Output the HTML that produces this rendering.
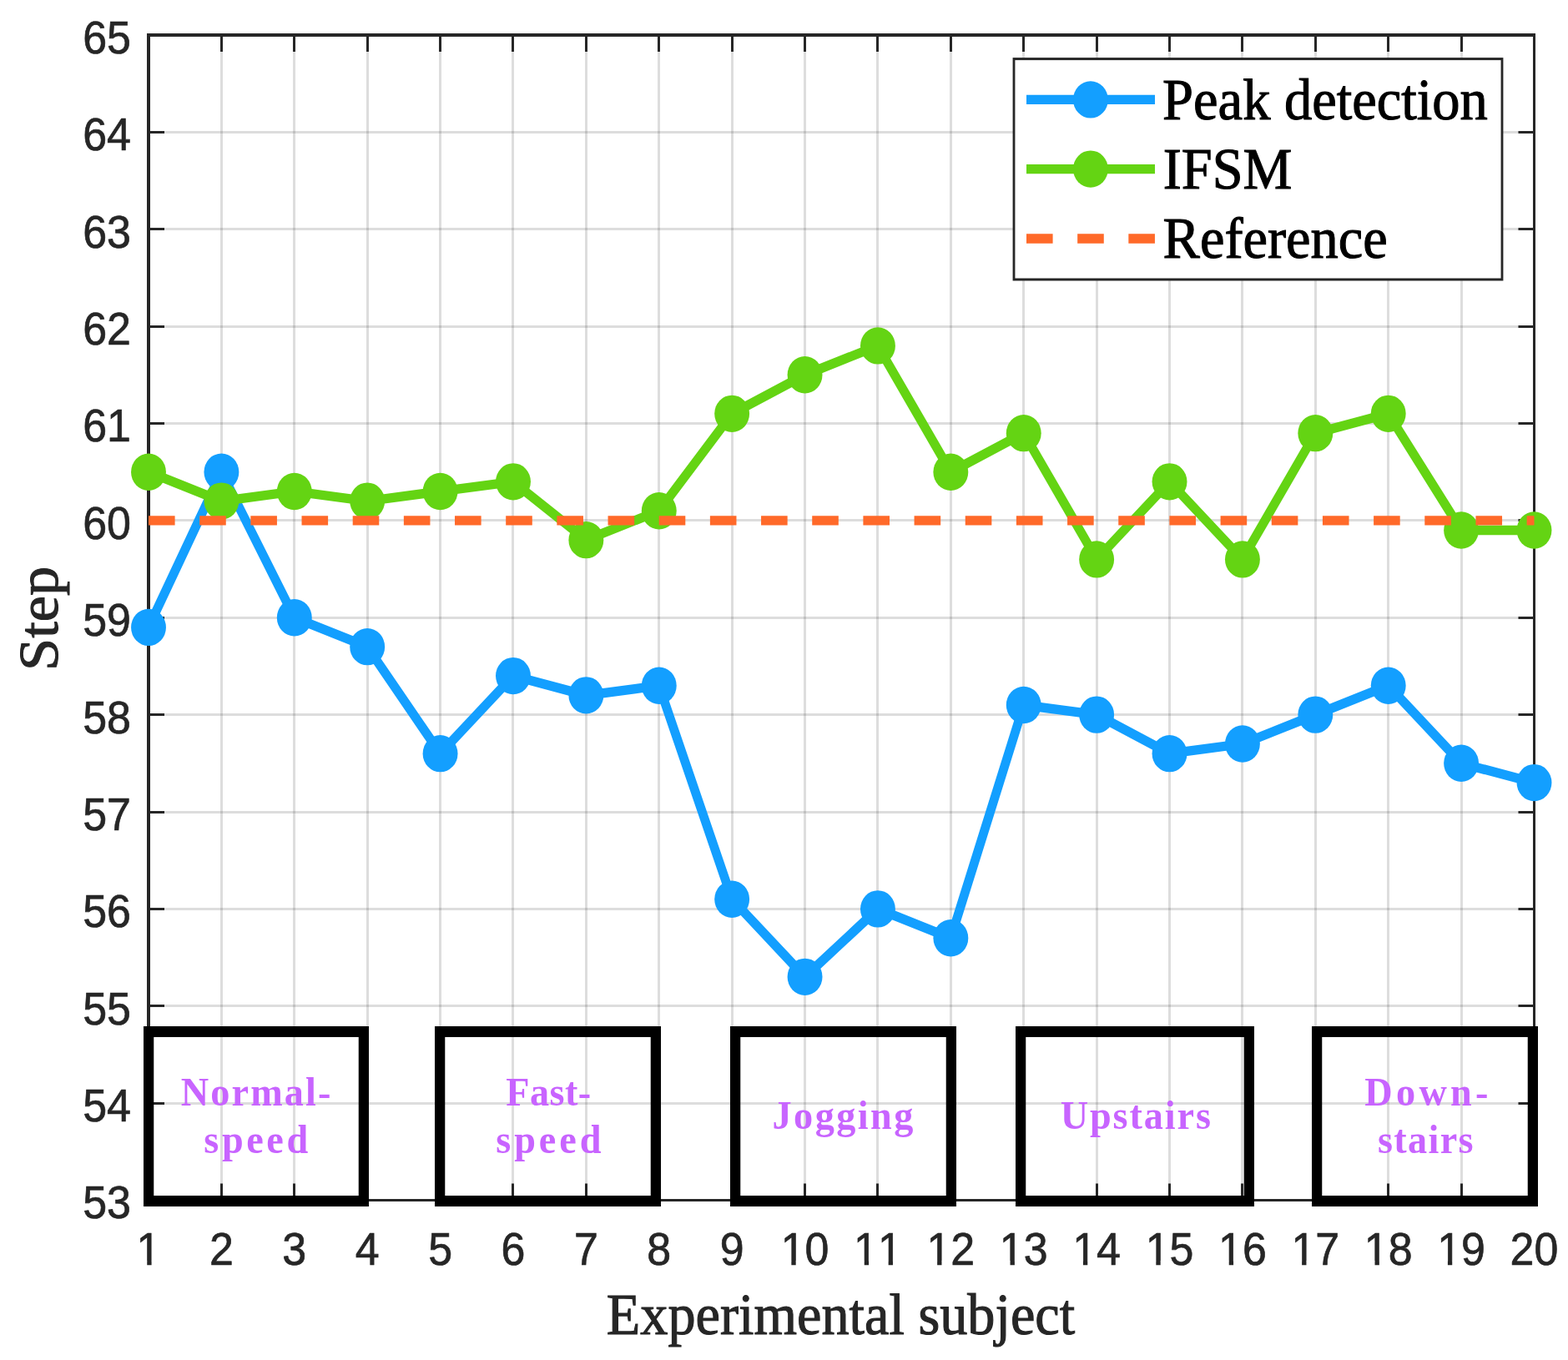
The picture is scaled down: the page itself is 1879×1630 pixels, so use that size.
<!DOCTYPE html>
<html><head><meta charset="utf-8"><title>Step count comparison</title><style>html,body{margin:0;padding:0;background:#fff;overflow:hidden}</style></head><body>
<svg width="1879" height="1630" viewBox="0 0 1990.47 1630" preserveAspectRatio="none" style="display:block">
<rect x="0" y="0" width="1990.47" height="1630" fill="#fff"/>
<path d="M281.25 42V1438.5M373.41 42V1438.5M466.63 42V1438.5M558.79 42V1438.5M650.95 42V1438.5M744.17 42V1438.5M836.33 42V1438.5M929.56 42V1438.5M1021.72 42V1438.5M1113.88 42V1438.5M1207.10 42V1438.5M1299.26 42V1438.5M1392.48 42V1438.5M1484.64 42V1438.5M1576.80 42V1438.5M1670.02 42V1438.5M1762.18 42V1438.5M1855.40 42V1438.5" stroke="#262626" stroke-opacity="0.155" stroke-width="3.178" fill="none"/>
<path d="M188.56 1322.5H1947.56M188.56 1205.5H1947.56M188.56 1089.5H1947.56M188.56 973.5H1947.56M188.56 856.5H1947.56M188.56 740.5H1947.56M188.56 623.5H1947.56M188.56 507.5H1947.56M188.56 391.5H1947.56M188.56 274.5H1947.56M188.56 158.5H1947.56" stroke="#262626" stroke-opacity="0.155" stroke-width="3" fill="none"/>
<path d="M189.09 42v20M189.09 1438.5v-20M281.25 42v20M281.25 1438.5v-20M373.41 42v20M373.41 1438.5v-20M466.63 42v20M466.63 1438.5v-20M558.79 42v20M558.79 1438.5v-20M650.95 42v20M650.95 1438.5v-20M744.17 42v20M744.17 1438.5v-20M836.33 42v20M836.33 1438.5v-20M929.56 42v20M929.56 1438.5v-20M1021.72 42v20M1021.72 1438.5v-20M1113.88 42v20M1113.88 1438.5v-20M1207.10 42v20M1207.10 1438.5v-20M1299.26 42v20M1299.26 1438.5v-20M1392.48 42v20M1392.48 1438.5v-20M1484.64 42v20M1484.64 1438.5v-20M1576.80 42v20M1576.80 1438.5v-20M1670.02 42v20M1670.02 1438.5v-20M1762.18 42v20M1762.18 1438.5v-20M1855.40 42v20M1855.40 1438.5v-20M1947.56 42v20M1947.56 1438.5v-20" stroke="#262626" stroke-width="3.178" fill="none"/>
<path d="M188.56 1438.5h20.13M1947.56 1438.5h-20.13M188.56 1322.5h20.13M1947.56 1322.5h-20.13M188.56 1205.5h20.13M1947.56 1205.5h-20.13M188.56 1089.5h20.13M1947.56 1089.5h-20.13M188.56 973.5h20.13M1947.56 973.5h-20.13M188.56 856.5h20.13M1947.56 856.5h-20.13M188.56 740.5h20.13M1947.56 740.5h-20.13M188.56 623.5h20.13M1947.56 623.5h-20.13M188.56 507.5h20.13M1947.56 507.5h-20.13M188.56 391.5h20.13M1947.56 391.5h-20.13M188.56 274.5h20.13M1947.56 274.5h-20.13M188.56 158.5h20.13M1947.56 158.5h-20.13M188.56 42.5h20.13M1947.56 42.5h-20.13" stroke="#262626" stroke-width="3" fill="none"/>
<path d="M188.56 40V1440" stroke="#262626" stroke-width="4.237" fill="none"/>
<path d="M1947.56 40V1440" stroke="#262626" stroke-width="3.178" fill="none"/>
<path d="M186.44 42H1949.15" stroke="#262626" stroke-width="4" fill="none"/>
<path d="M186.44 1438.5H1949.15" stroke="#262626" stroke-width="3" fill="none"/>
<g font-family="'Liberation Sans', Arial, sans-serif" font-size="55" fill="#262626" stroke="#262626" stroke-width="0.7" style="font-kerning:none">
<text x="188.56" y="1516" text-anchor="middle">1</text>
<text x="281.14" y="1516" text-anchor="middle">2</text>
<text x="373.72" y="1516" text-anchor="middle">3</text>
<text x="466.3" y="1516" text-anchor="middle">4</text>
<text x="558.88" y="1516" text-anchor="middle">5</text>
<text x="651.46" y="1516" text-anchor="middle">6</text>
<text x="744.03" y="1516" text-anchor="middle">7</text>
<text x="836.61" y="1516" text-anchor="middle">8</text>
<text x="929.19" y="1516" text-anchor="middle">9</text>
<text x="1021.77" y="1516" text-anchor="middle">10</text>
<text x="1114.35" y="1516" text-anchor="middle">11</text>
<text x="1206.93" y="1516" text-anchor="middle">12</text>
<text x="1299.51" y="1516" text-anchor="middle">13</text>
<text x="1392.09" y="1516" text-anchor="middle">14</text>
<text x="1484.67" y="1516" text-anchor="middle">15</text>
<text x="1577.25" y="1516" text-anchor="middle">16</text>
<text x="1669.83" y="1516" text-anchor="middle">17</text>
<text x="1762.41" y="1516" text-anchor="middle">18</text>
<text x="1854.98" y="1516" text-anchor="middle">19</text>
<text x="1947.56" y="1516" text-anchor="middle">20</text>
<text x="166.31" y="1460.5" text-anchor="end">53</text>
<text x="166.31" y="1344.12" text-anchor="end">54</text>
<text x="166.31" y="1227.75" text-anchor="end">55</text>
<text x="166.31" y="1111.38" text-anchor="end">56</text>
<text x="166.31" y="995.0" text-anchor="end">57</text>
<text x="166.31" y="878.62" text-anchor="end">58</text>
<text x="166.31" y="762.25" text-anchor="end">59</text>
<text x="166.31" y="645.88" text-anchor="end">60</text>
<text x="166.31" y="529.5" text-anchor="end">61</text>
<text x="166.31" y="413.12" text-anchor="end">62</text>
<text x="166.31" y="296.75" text-anchor="end">63</text>
<text x="166.31" y="180.38" text-anchor="end">64</text>
<text x="166.31" y="64.0" text-anchor="end">65</text>
</g>
<path d="M176.09 1517.2V1511H186.70V1517.2ZM192.36 1517.2V1511H202.53V1517.2ZM994.01 1517.2V1511H1004.61V1517.2ZM1010.27 1517.2V1511H1020.44V1517.2ZM1086.59 1517.2V1511H1097.19V1517.2ZM1102.85 1517.2V1511H1113.02V1517.2ZM1117.18 1517.2V1511H1127.78V1517.2ZM1133.44 1517.2V1511H1143.61V1517.2ZM1179.17 1517.2V1511H1189.77V1517.2ZM1195.43 1517.2V1511H1205.60V1517.2ZM1271.75 1517.2V1511H1282.35V1517.2ZM1288.01 1517.2V1511H1298.18V1517.2ZM1364.33 1517.2V1511H1374.93V1517.2ZM1380.59 1517.2V1511H1390.76V1517.2ZM1456.91 1517.2V1511H1467.51V1517.2ZM1473.17 1517.2V1511H1483.34V1517.2ZM1549.49 1517.2V1511H1560.09V1517.2ZM1565.75 1517.2V1511H1575.92V1517.2ZM1642.07 1517.2V1511H1652.67V1517.2ZM1658.33 1517.2V1511H1668.50V1517.2ZM1734.65 1517.2V1511H1745.25V1517.2ZM1750.91 1517.2V1511H1761.08V1517.2ZM1827.22 1517.2V1511H1837.82V1517.2ZM1843.48 1517.2V1511H1853.65V1517.2Z" fill="#fff"/>
<polyline points="188.56,751.89 281.14,565.69 373.72,740.25 466.3,775.16 558.88,903.17 651.46,810.08 744.03,833.35 836.61,821.71 929.19,1077.74 1021.77,1170.84 1114.35,1089.38 1206.93,1124.29 1299.51,844.99 1392.09,856.62 1484.67,903.17 1577.25,891.54 1669.83,856.62 1762.41,821.71 1854.98,914.81 1947.56,938.09" fill="none" stroke="#139FFF" stroke-width="11.4" stroke-linejoin="miter" stroke-miterlimit="10"/>
<g fill="#139FFF"><circle cx="188.56" cy="751.89" r="22.2"/><circle cx="281.14" cy="565.69" r="22.2"/><circle cx="373.72" cy="740.25" r="22.2"/><circle cx="466.3" cy="775.16" r="22.2"/><circle cx="558.88" cy="903.17" r="22.2"/><circle cx="651.46" cy="810.08" r="22.2"/><circle cx="744.03" cy="833.35" r="22.2"/><circle cx="836.61" cy="821.71" r="22.2"/><circle cx="929.19" cy="1077.74" r="22.2"/><circle cx="1021.77" cy="1170.84" r="22.2"/><circle cx="1114.35" cy="1089.38" r="22.2"/><circle cx="1206.93" cy="1124.29" r="22.2"/><circle cx="1299.51" cy="844.99" r="22.2"/><circle cx="1392.09" cy="856.62" r="22.2"/><circle cx="1484.67" cy="903.17" r="22.2"/><circle cx="1577.25" cy="891.54" r="22.2"/><circle cx="1669.83" cy="856.62" r="22.2"/><circle cx="1762.41" cy="821.71" r="22.2"/><circle cx="1854.98" cy="914.81" r="22.2"/><circle cx="1947.56" cy="938.09" r="22.2"/></g>
<polyline points="188.56,565.69 281.14,600.6 373.72,588.96 466.3,600.6 558.88,588.96 651.46,577.33 744.03,647.15 836.61,612.24 929.19,495.86 1021.77,449.31 1114.35,414.4 1206.93,565.69 1299.51,519.14 1392.09,670.42 1484.67,577.33 1577.25,670.42 1669.83,519.14 1762.41,495.86 1854.98,635.51 1947.56,635.51" fill="none" stroke="#64D413" stroke-width="11.4" stroke-linejoin="miter" stroke-miterlimit="10"/>
<g fill="#64D413"><circle cx="188.56" cy="565.69" r="22.2"/><circle cx="281.14" cy="600.6" r="22.2"/><circle cx="373.72" cy="588.96" r="22.2"/><circle cx="466.3" cy="600.6" r="22.2"/><circle cx="558.88" cy="588.96" r="22.2"/><circle cx="651.46" cy="577.33" r="22.2"/><circle cx="744.03" cy="647.15" r="22.2"/><circle cx="836.61" cy="612.24" r="22.2"/><circle cx="929.19" cy="495.86" r="22.2"/><circle cx="1021.77" cy="449.31" r="22.2"/><circle cx="1114.35" cy="414.4" r="22.2"/><circle cx="1206.93" cy="565.69" r="22.2"/><circle cx="1299.51" cy="519.14" r="22.2"/><circle cx="1392.09" cy="670.42" r="22.2"/><circle cx="1484.67" cy="577.33" r="22.2"/><circle cx="1577.25" cy="670.42" r="22.2"/><circle cx="1669.83" cy="519.14" r="22.2"/><circle cx="1762.41" cy="495.86" r="22.2"/><circle cx="1854.98" cy="635.51" r="22.2"/><circle cx="1947.56" cy="635.51" r="22.2"/></g>
<path d="M188.56 623.88H1947.56" stroke="#FF6929" stroke-width="11.4" stroke-dasharray="33.47 31.33" fill="none"/>
<rect x="188.7" y="1236.5" width="273.02" height="203" stroke="#000" stroke-width="13" fill="none"/>
<rect x="558.41" y="1236.5" width="274.07" height="203" stroke="#000" stroke-width="13" fill="none"/>
<rect x="933.41" y="1236.5" width="274.07" height="203" stroke="#000" stroke-width="13" fill="none"/>
<rect x="1295.69" y="1236.5" width="289.97" height="203" stroke="#000" stroke-width="13" fill="none"/>
<rect x="1671.75" y="1236.5" width="274.08" height="203" stroke="#000" stroke-width="13" fill="none"/>
<g font-family="'Liberation Serif', 'Times New Roman', serif" font-weight="bold" font-size="49" fill="#C864FF" style="font-kerning:none">
<text x="229.68" y="1324.9" textLength="190.23" lengthAdjust="spacing">Normal-</text>
<text x="258.79" y="1382.3" textLength="132.22" lengthAdjust="spacing">speed</text>
<text x="642.28" y="1325.2" textLength="108.03" lengthAdjust="spacing">Fast-</text>
<text x="629.45" y="1382.2" textLength="133.81" lengthAdjust="spacing">speed</text>
<text x="980.45" y="1353.3" textLength="178.82" lengthAdjust="spacing">Jogging</text>
<text x="1346.03" y="1353.3" textLength="191.08" lengthAdjust="spacing">Upstairs</text>
<text x="1732.40" y="1325.2" textLength="156.89" lengthAdjust="spacing">Down-</text>
<text x="1748.83" y="1382.2" textLength="121.54" lengthAdjust="spacing">stairs</text>
</g>
<rect x="1287.08" y="70.6" width="619.70" height="264.4" fill="#fff" stroke="#262626" stroke-width="3"/>
<path d="M1302.97 119.4H1466.1" stroke="#139FFF" stroke-width="11.4"/>
<circle cx="1384.43" cy="119.4" r="22.2" fill="#139FFF"/>
<path d="M1302.97 202.6H1466.1" stroke="#64D413" stroke-width="11.4"/>
<circle cx="1384.43" cy="202.6" r="22.2" fill="#64D413"/>
<path d="M1302.97 286H1466.1" stroke="#FF6929" stroke-width="11.4" stroke-dasharray="33.47 31.33"/>
<g font-family="'Liberation Serif', 'Times New Roman', serif" font-size="69.5" fill="#000" stroke="#000" stroke-width="1.1" style="font-kerning:none">
<text x="1475.77" y="142.6" textLength="412.76" lengthAdjust="spacingAndGlyphs">Peak detection</text>
<text x="1476.53" y="225.6" textLength="163.62" lengthAdjust="spacingAndGlyphs">IFSM</text>
<text x="1476.30" y="309.0" textLength="285.09" lengthAdjust="spacingAndGlyphs">Reference</text>
</g>
<g font-family="'Liberation Serif', 'Times New Roman', serif" font-size="69.5" fill="#262626" stroke="#262626" stroke-width="1.1" style="font-kerning:none">
<text x="769.95" y="1598.8" textLength="594.64" lengthAdjust="spacingAndGlyphs">Experimental subject</text>
<text transform="translate(73.41 803.90) scale(1.03 1) rotate(-90)" x="0" y="0" textLength="125.16" lengthAdjust="spacingAndGlyphs">Step</text>
</g>
</svg>
</body></html>
